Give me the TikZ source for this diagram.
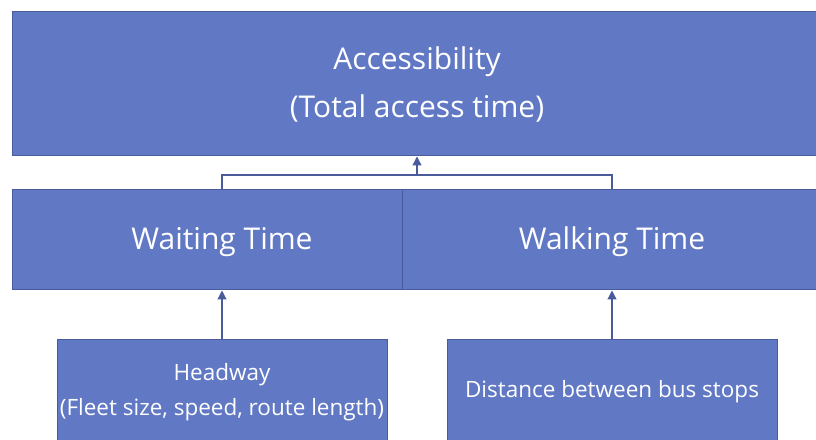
\documentclass[tikz,border=0pt]{standalone}
\usepackage{fontspec}
\setmainfont{Open Sans}
\usetikzlibrary{arrows.meta}
\definecolor{boxfill}{HTML}{6178C5}
\definecolor{boxline}{HTML}{4A5B9C}
\begin{document}
\begin{tikzpicture}[x=1pt,y=1pt,
  box/.style={draw=boxline,fill=boxfill,line width=1pt,rectangle,inner sep=0pt},
  lbl/.style={text=white,align=center,inner sep=0pt},
  conn/.style={draw=boxline,line width=1.2pt},
  arr/.style={conn,-{Triangle[width=9pt,length=9pt]}}]
\useasboundingbox (0,0) rectangle (816,439);
\clip (0,0) rectangle (816,439);
\fill[white] (0,0) rectangle (816,439);
% boxes
\node[box,minimum width=810,minimum height=144] (acc) at (417,355) {};
\node[box,minimum width=390,minimum height=100] (wait) at (207,199) {};
\node[box,minimum width=420,minimum height=100] (walk) at (612,199) {};
\node[box,minimum width=330,minimum height=110] (head) at (222,44) {};
\node[box,minimum width=330,minimum height=110] (dist) at (612,44) {};
% labels
\node[lbl,font=\fontsize{30}{30}\selectfont] (accA) at (417,377) {Accessibility};
\node[lbl,font=\fontsize{30}{30}\selectfont] (accB) at (417,331) {(Total access time)};
\node[lbl,font=\fontsize{30}{30}\selectfont] (waitT) at (222,197) {Waiting Time};
\node[lbl,font=\fontsize{30}{30}\selectfont] (walkT) at (612,197) {Walking Time};
\node[lbl,font=\fontsize{22.5}{22.5}\selectfont] (headA) at (222,64) {Headway};
\node[lbl,font=\fontsize{22.5}{22.5}\selectfont] (headB) at (222,29) {(Fleet size, speed, route length)};
\node[lbl,font=\fontsize{22.5}{22.5}\selectfont] (distT) at (612,47) {Distance between bus stops};
% connectors
\coordinate (j) at (417,264);
\draw[conn] (wait.north -| headA) |- (j) -| (walk.north);
\draw[arr] (j) -- (j |- acc.south);
\draw[arr] (head.north) -- (head.north |- wait.south);
\draw[arr] (dist.north) -- (walk.south);
\end{tikzpicture}
\end{document}
